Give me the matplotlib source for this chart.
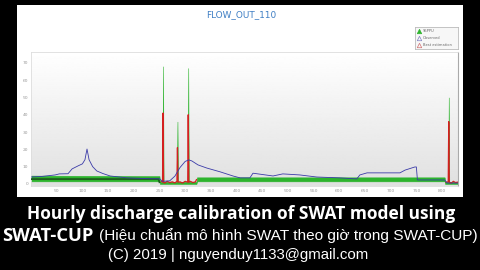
import numpy as np
import matplotlib
matplotlib.use("Agg")
import matplotlib.pyplot as plt

# ---------------- data ----------------
title = "FLOW_OUT_110"
legend_labels = ["95PPU", "Observed", "Best estimation"]

obs_x = [0, 20, 47, 55, 72, 80, 92, 100, 105, 109, 113, 120, 128, 140, 154, 187, 232, 250,
         256, 270, 280, 290, 300, 307, 313, 325, 342, 368, 393, 407, 426, 432, 471, 490,
         523, 556, 601, 634, 640, 654, 718, 728, 747, 750, 752, 805, 810, 830]
obs_y = [4.0, 4.3, 5.2, 5.8, 5.9, 8.7, 10.5, 11.6, 14.0, 20.2, 14.0, 10.0, 7.5, 6.0, 4.6,
         3.5, 3.0, 3.0, 1.5, 1.8, 4.5, 9.5, 13.0, 13.9, 13.3, 11.0, 9.2, 7.0, 4.6, 3.5,
         3.5, 6.2, 4.6, 5.8, 5.2, 4.0, 3.5, 2.9, 5.2, 6.4, 6.4, 8.0, 9.8, 9.8, 2.3, 2.3,
         0.5, 0.5]

best_x = [0, 248, 250, 254, 256, 257, 258, 260, 265, 270, 275, 280, 284, 285, 286, 290,
          295, 300, 305, 306, 307, 310, 315, 320, 322, 805, 808, 812, 813, 814, 818, 822,
          826, 830]
best_y = [2.8, 2.8, 1.0, 1.5, 1.0, 41.0, 1.0, 0.5, 1.5, 0.8, 1.2, 0.6, 1.5, 21.0, 1.0,
          1.2, 0.5, 1.5, 1.0, 40.0, 1.0, 1.5, 0.8, 1.2, 2.5, 2.5, 1.0, 1.2, 36.0, 1.0,
          0.5, 1.5, 0.8, 1.0]

ppu_x = [0, 250, 251, 256, 257, 258, 284, 285, 286, 305, 306, 307, 322, 323, 805, 806,
         812, 813, 814, 830]
ppu_lo = [1.5, 1.5, 0.0, 0.0, 0.0, 0.0, 0.0, 0.0, 0.0, 0.0, 0.0, 0.0, 0.0, 1.5, 1.5,
          0.0, 0.0, 0.0, 0.0, 0.0]
ppu_hi = [4.8, 4.5, 1.2, 1.2, 68.0, 1.2, 1.2, 36.0, 1.2, 1.2, 67.0, 1.2, 1.2, 3.8, 3.8,
          1.2, 1.2, 50.0, 1.2, 1.2]

xticks = [50, 100, 150, 200, 250, 300, 350, 400, 450, 500, 550, 600, 650, 700, 750, 800]
yticks = [0, 10, 20, 30, 40, 50, 60, 70]

caption1 = "Hourly discharge calibration of SWAT model using"
caption2a = "SWAT-CUP"
caption2b = "(Hiệu chuẩn mô hình SWAT theo giờ trong SWAT-CUP)"
caption3 = "(C) 2019 | nguyenduy1133@gmail.com"

# ---------------- figure ----------------
W, H = 480, 270
fig = plt.figure(figsize=(4.8, 2.7), dpi=100)
fig.patch.set_facecolor("black")

def fx(px):
    return px / W

def fy(py):
    return 1 - py / H

# white panel
panel = fig.add_axes([fx(17), fy(197), fx(446), 192 / H])
panel.set_facecolor("white")
panel.set_xticks([]); panel.set_yticks([])
for s in panel.spines.values():
    s.set_visible(False)

# plot axes
ax = fig.add_axes([fx(31), fy(186), fx(427), 134 / H])
ax.set_xlim(0, 831)
ax.set_ylim(-1.2, 76.3)
grad = np.linspace(1.0, 0.88, 256).reshape(-1, 1)
ax.imshow(grad, extent=[0, 1, 0, 1], transform=ax.transAxes, cmap="gray",
          vmin=0, vmax=1, aspect="auto", zorder=0)
ax.set_facecolor("white")

px_ = np.array(ppu_x, dtype=float)
lo = np.array(ppu_lo); hi = np.array(ppu_hi)
ax.fill_between(px_, lo, hi, color="#2db42d", lw=0.4, edgecolor="#2db42d", zorder=2)

bx = np.array(best_x, dtype=float); by = np.array(best_y)
lo_at_b = np.interp(bx, px_, lo)
inside = lo_at_b > 0.5   # best estimation lying within the wide band
best_dark = np.ma.masked_where(~inside, by)
ax.plot(bx, best_dark, color="#1d5e1d", lw=1.3, zorder=3)
best_red = np.ma.masked_where(inside, by)
ax.plot(bx, best_red, color="#d42020", lw=0.9, zorder=4)

ax.plot(obs_x, obs_y, color="#3a3aa8", lw=0.6, zorder=5)

ax.set_xticks(xticks)
ax.set_yticks(yticks)
ax.tick_params(axis="both", labelsize=3.2, colors="#999999", length=0, pad=2)
for s in ["top", "left", "bottom"]:
    ax.spines[s].set_color("#dddddd")
    ax.spines[s].set_linewidth(0.6)
ax.spines["right"].set_color("#aaaaaa")
ax.spines["right"].set_linewidth(0.8)

# title
fig.text(fx(241), fy(15), title, color="#3f7fc4", fontsize=6.4, ha="center",
         va="center", family="DejaVu Sans")

# legend box
lax = fig.add_axes([fx(415), fy(49), fx(43), 22 / H])
lax.set_xlim(0, 43); lax.set_ylim(22, 0)
lax.set_xticks([]); lax.set_yticks([])
lax.set_facecolor("#f7f7f7")
for s in lax.spines.values():
    s.set_color("#bbbbbb"); s.set_linewidth(0.6)
tri_style = [("#2db42d", "#2db42d"), ("none", "#8080c0"), ("none", "#d07070")]
for i, (lab, (fc, ec)) in enumerate(zip(legend_labels, tri_style)):
    yy = 4 + i * 7
    lax.plot([4], [yy], marker="^", ms=3.2, mfc=fc, mec=ec, mew=0.5)
    lax.text(8, yy, lab, fontsize=2.6, color="#666666", va="center", ha="left")

# captions
renderer = fig.canvas.get_renderer()

def fit_text(x0, x1, yc, s, weight, family, size0):
    t = fig.text(fx(x0), fy(yc), s, color="white", fontsize=size0, fontweight=weight,
                 family=family, va="center", ha="left")
    w = t.get_window_extent(renderer).width
    t.set_fontsize(size0 * (x1 - x0) / w)
    return t

fit_text(27, 457, 214, caption1, "bold", ["Open Sans", "DejaVu Sans"], 11)
fit_text(2, 93, 236, caption2a, "bold", ["Open Sans", "DejaVu Sans"], 11)
fit_text(99, 479, 236, caption2b, "normal", ["Liberation Sans", "DejaVu Sans"], 10)
fit_text(108, 367, 255, caption3, "normal", ["Liberation Sans", "DejaVu Sans"], 9)

fig.savefig("out.png", dpi=100, facecolor="black")
